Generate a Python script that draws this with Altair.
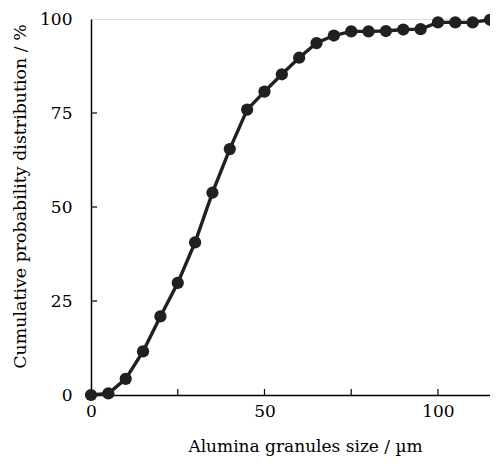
import altair as alt
import pandas as pd

size_um = [0, 5, 10, 15, 20, 25, 30, 35, 40, 45, 50, 55, 60, 65, 70, 75, 80, 85, 90, 95, 100, 105, 110, 115]
cum_pct = [0, 0.4, 4.3, 11.6, 20.9, 29.8, 40.6, 53.8, 65.4, 75.9, 80.7, 85.3, 89.7, 93.6, 95.6, 96.7, 96.7, 96.8, 97.2, 97.3, 99.1, 99.1, 99.1, 99.8]
x_ticks = [25, 50, 75, 100]
y_ticks = [25, 50, 75]

W, H = 399, 376
FONT = "DejaVu Serif"
INK = "#231f20"

df = pd.DataFrame({"size": size_um, "cum": cum_pct})
xt = pd.DataFrame({"v": x_ticks})
yt = pd.DataFrame({"v": y_ticks})

xscale = alt.Scale(domain=[0, 115], nice=False, zero=False)
yscale = alt.Scale(domain=[0, 100], nice=False)

base = alt.Chart(df)

line = base.mark_line(color=INK, strokeWidth=3.4, clip=False).encode(
    x=alt.X("size:Q", scale=xscale,
            axis=alt.Axis(title="Alumina granules size / µm", values=[0, 50, 100],
                          ticks=False, grid=False, labelPadding=8,
                          titleX=214, titleY=56, titleBaseline="alphabetic",
                          labelFontSize=17, titleFontSize=17, labelFont=FONT, titleFont=FONT,
                          titleFontWeight="normal", labelColor="#000", titleColor="#000",
                          domainColor="#000", domainWidth=1.5, labelFlush=False)),
    y=alt.Y("cum:Q", scale=yscale,
            axis=alt.Axis(title="Cumulative probability distribution / %", values=[0, 25, 50, 75, 100],
                          ticks=False, grid=False, labelPadding=19,
                          titleX=-71, titleY=177, titleAngle=-90, titleBaseline="middle",
                          labelFontSize=17, titleFontSize=17.4, labelFont=FONT, titleFont=FONT,
                          titleFontWeight="normal", labelColor="#000", titleColor="#000",
                          domainColor="#000", domainWidth=1.5, labelFlush=False)),
)

pts = base.mark_circle(color=INK, size=150, opacity=1, clip=False).encode(
    x=alt.X("size:Q", scale=xscale),
    y=alt.Y("cum:Q", scale=yscale),
)

xtick_marks = alt.Chart(xt).mark_rule(color="#000", strokeWidth=1.2).encode(
    x=alt.X("v:Q", scale=xscale),
    y=alt.value(H),
    y2=alt.value(H - 6),
)
ytick_marks = alt.Chart(yt).mark_rule(color="#000", strokeWidth=1.2).encode(
    y=alt.Y("v:Q", scale=yscale),
    x=alt.value(0),
    x2=alt.value(6),
)

chart = alt.layer(xtick_marks, ytick_marks, line, pts).properties(
    width=W, height=H,
    autosize=alt.AutoSizeParams(type="none"),
    padding={"left": 83, "top": 11, "right": 0, "bottom": 61},
).configure_view(stroke="#000", strokeWidth=1.3).configure(background="white")

chart.save("out.html", embed_options={"renderer": "svg", "actions": False})
